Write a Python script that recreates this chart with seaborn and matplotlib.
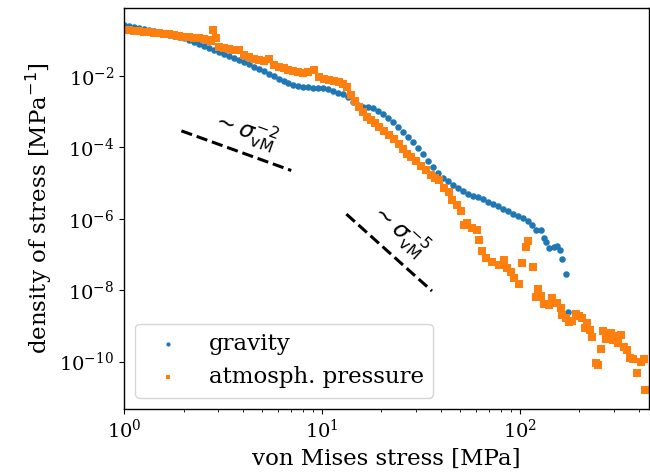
import numpy as np
import matplotlib
matplotlib.use("Agg")
import matplotlib.pyplot as plt
import seaborn as sns

# ---- data ----
gravity_stress = [1.000, 1.060, 1.123, 1.190, 1.261, 1.336, 1.416, 1.501, 1.591, 1.686,
                  1.786, 1.893, 2.006, 2.126, 2.253, 2.387, 2.529, 2.681, 2.841, 3.010,
                  3.190, 3.381, 3.583, 3.797, 4.023, 4.264, 4.518, 4.788, 5.074, 5.377,
                  5.698, 6.038, 6.398, 6.780, 7.185, 7.614, 8.069, 8.551, 9.062, 9.603,
                  10.18, 10.78, 11.43, 12.11, 12.83, 13.60, 14.41, 15.27, 16.18, 17.15,
                  18.17, 19.26, 20.41, 21.63, 22.92, 24.29, 25.74, 27.28, 28.91, 30.63,
                  32.46, 34.40, 36.46, 38.63, 40.94, 43.39, 45.98, 48.72, 51.63, 54.71,
                  57.98, 61.44, 65.11, 69.00, 73.11, 77.48, 82.10, 87.00, 92.20, 97.71,
                  103.5, 109.7, 115.0, 120.4, 127.6, 132.1, 135.2, 140.0, 148.4, 153.6,
                  159.0, 162.8, 170.5, 174.5]
gravity_density = [0.2683, 0.2515, 0.2358, 0.2211, 0.2073, 0.1943, 0.1822, 0.1708, 0.1551, 0.1408,
                   0.1319, 0.1237, 0.1160, 0.1019, 0.0896, 0.0788, 0.0692, 0.0609, 0.0535, 0.0470,
                   0.0413, 0.0363, 0.0319, 0.0281, 0.0247, 0.0210, 0.01787, 0.01571, 0.01337, 0.01138,
                   0.00968, 0.00824, 0.00724, 0.00637, 0.00560, 0.00525, 0.00492, 0.00476, 0.00461, 0.00461,
                   0.00461, 0.00418, 0.00380, 0.00334, 0.00303, 0.00258, 0.00187, 0.00154, 0.00135, 0.00135,
                   0.00127, 0.001046, 0.000862, 0.000666, 0.000515, 0.000373, 0.000270, 0.000196, 0.0001417, 9.62e-5,
                   6.53e-5, 4.16e-5, 2.82e-5, 1.918e-5, 1.389e-5, 1.145e-5, 8.85e-6, 7.29e-6, 6.01e-6, 4.95e-6,
                   4.35e-6, 4.08e-6, 3.58e-6, 2.96e-6, 2.60e-6, 2.28e-6, 1.88e-6, 1.654e-6, 1.363e-6, 1.198e-6,
                   1.053e-6, 8.68e-7, 6.70e-7, 4.86e-7, 4.86e-7, 2.90e-7, 2.24e-7, 1.521e-7, 1.622e-7, 1.730e-7,
                   1.337e-7, 7.48e-8, 2.84e-8, 2.45e-9]

pressure_stress = [1.000, 1.060, 1.123, 1.190, 1.261, 1.336, 1.416, 1.501, 1.591, 1.686,
                   1.786, 1.893, 2.006, 2.126, 2.253, 2.387, 2.529, 2.681, 2.744, 2.808,
                   2.907, 3.010, 3.190, 3.381, 3.583, 3.797, 4.023, 4.264, 4.518, 4.788,
                   5.074, 5.377, 5.698, 6.038, 6.398, 6.780, 7.185, 7.614, 8.069, 8.551,
                   9.167, 9.714, 10.29, 10.91, 11.56, 12.25, 12.83, 13.45, 14.08, 14.75,
                   15.45, 16.18, 16.95, 17.76, 18.60, 19.49, 20.65, 21.88, 23.19, 24.57,
                   25.74, 26.96, 28.24, 29.93, 31.71, 33.61, 35.61, 37.30, 39.07, 41.41,
                   43.88, 45.44, 48.15, 50.45, 52.23, 54.08, 57.31, 60.74, 62.16, 64.37,
                   67.42, 72.27, 78.38, 83.06, 86.01, 90.10, 93.28, 98.86, 102.3, 107.2,
                   109.7, 116.3, 123.2, 120.4, 127.6, 132.1, 140.0, 145.0, 153.6, 160.9,
                   162.8, 170.5, 176.6, 182.8, 191.5, 198.3, 205.3, 217.6, 212.6, 225.3,
                   230.6, 241.5, 247.2, 255.9, 261.9, 271.2, 290.7, 297.6, 308.2, 315.3,
                   326.5, 338.1, 350.0, 362.4, 375.2, 393.1, 411.8, 426.4, 431.4]
pressure_density = [0.1943, 0.1881, 0.1822, 0.1764, 0.1708, 0.1654, 0.1601, 0.1551, 0.1502, 0.1454,
                    0.1363, 0.1278, 0.1237, 0.1198, 0.1160, 0.1123, 0.1053, 0.0988, 0.0956, 0.1943,
                    0.1160, 0.0649, 0.0609, 0.0553, 0.0535, 0.0535, 0.0387, 0.0341, 0.0300, 0.0281,
                    0.0263, 0.0300, 0.0203, 0.0179, 0.01622, 0.01472, 0.01381, 0.01294, 0.01213, 0.01294,
                    0.01472, 0.00938, 0.00824, 0.00773, 0.00724, 0.00679, 0.00597, 0.00492, 0.00294, 0.00199,
                    0.00135, 0.000981, 0.000710, 0.000586, 0.000483, 0.000373, 0.000288, 0.000223, 0.000172, 0.0001245,
                    9.02e-5, 6.53e-5, 5.38e-5, 4.16e-5, 3.01e-5, 2.33e-5, 1.686e-5, 1.389e-5, 1.221e-5, 7.29e-6,
                    5.63e-6, 3.36e-6, 2.44e-6, 1.654e-6, 6.70e-7, 7.63e-7, 5.53e-7, 4.86e-7, 2.55e-7, 1.253e-7,
                    7.98e-8, 6.17e-8, 5.08e-8, 7.01e-8, 4.18e-8, 3.23e-8, 2.20e-8, 1.492e-8, 5.78e-8, 1.622e-7,
                    2.39e-7, 4.47e-8, 1.080e-8, 6.45e-9, 6.88e-9, 4.11e-9, 3.85e-9, 6.05e-9, 4.38e-9, 3.17e-9,
                    2.02e-9, 1.665e-9, 1.286e-9, 1.372e-9, 2.15e-9, 1.894e-9, 1.665e-9, 1.206e-9, 8.73e-10, 7.68e-10,
                    4.89e-10, 9.14e-11, 8.03e-11, 2.25e-10, 7.20e-10, 4.30e-10, 6.33e-10, 4.03e-10, 5.21e-10, 3.32e-10,
                    5.56e-10, 2.56e-10, 2.11e-10, 1.262e-10, 1.183e-10, 4.80e-11, 9.74e-11, 1.183e-10, 1.602e-11]

# guide lines (power-law slopes)
slope2_stress = [1.95, 7.0]
slope2_density = [2.9e-4, 2.25e-5]
slope5_stress = [13.3, 36.0]
slope5_density = [1.35e-6, 9.5e-9]

series_labels = ["gravity", "atmosph. pressure"]
y_ticks = [1e-2, 1e-4, 1e-6, 1e-8, 1e-10]

# ---- style ----
sns.set_style("ticks")
plt.rcParams["font.family"] = ["DejaVu Serif"]
plt.rcParams["text.color"] = "black"
plt.rcParams["axes.labelcolor"] = "black"
plt.rcParams["xtick.color"] = "black"
plt.rcParams["ytick.color"] = "black"
plt.rcParams["axes.edgecolor"] = "black"

fig = plt.figure(figsize=(6.5, 4.74), dpi=100)
ax = fig.add_axes([0.1908, 0.1371, 0.8077, 0.846])

blue = "#1f77b4"
orange = "#ff7f0e"

sns.scatterplot(x=gravity_stress, y=gravity_density, ax=ax, marker="o", s=22,
                color=blue, linewidth=0, label=series_labels[0])
sns.scatterplot(x=pressure_stress, y=pressure_density, ax=ax, marker="s", s=26,
                color=orange, linewidth=0, label=series_labels[1])

ax.plot(slope2_stress, slope2_density, "k--", lw=2.2)
ax.plot(slope5_stress, slope5_density, "k--", lw=2.2)

ax.set_xscale("log")
ax.set_yscale("log")
ax.set_xlim(1, 450)
ax.set_ylim(4.7e-12, 0.80)
ax.set_yticks(y_ticks)
ax.yaxis.set_minor_locator(matplotlib.ticker.NullLocator())

ax.text(4.07, 3.1e-4, r"$\sim\sigma_{\rm vM}^{-2}$", fontsize=16.5, rotation=-20,
        ha="center", va="center", rotation_mode="anchor", math_fontfamily="dejavusans")
ax.text(24.6, 5.1e-7, r"$\sim\sigma_{\rm vM}^{-5}$", fontsize=16.5, rotation=-42,
        ha="center", va="center", rotation_mode="anchor", math_fontfamily="dejavusans")

ax.set_xlabel("von Mises stress [MPa]", fontsize=16.5)
ax.set_ylabel(r"density of stress [MPa$^{-1}$]", fontsize=16.5)
ax.tick_params(axis="both", which="major", labelsize=14)
for sp in ax.spines.values():
    sp.set_linewidth(1.0)

ax.legend(loc="lower left", fontsize=16.5, markerscale=0.65, frameon=True)

fig.savefig("out.png", dpi=100)
